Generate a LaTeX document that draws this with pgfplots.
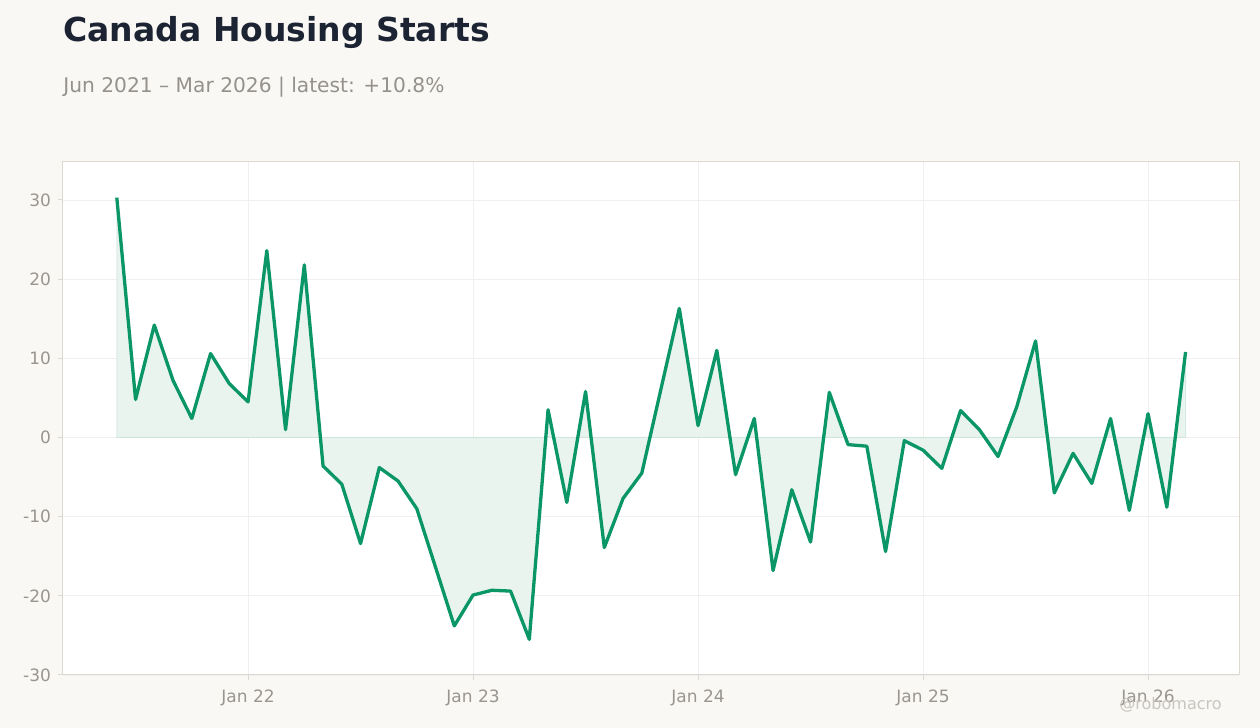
\documentclass[border=0pt]{standalone}
\usepackage{pgfplots}
\pgfplotsset{compat=1.18}
\usepackage{fontspec}
\setmainfont{DejaVu Sans}
\definecolor{bgc}{HTML}{F9F8F5}
\definecolor{linec}{HTML}{0A9667}
\definecolor{fillc}{HTML}{EAF4EF}
\definecolor{titlec}{HTML}{1C2333}
\definecolor{subc}{HTML}{95918C}
\definecolor{tickc}{HTML}{9A958F}
\definecolor{framec}{HTML}{DDD8D0}
\definecolor{gridc}{HTML}{F1F0EE}
\definecolor{wmc}{HTML}{C9C5C0}
\pgfplotstableread{
x y
-7 30.3
-6 4.8
-5 14.2
-4 7.2
-3 2.4
-2 10.6
-1 6.8
0 4.5
1 23.6
2 1.0
3 21.8
4 -3.6
5 -5.9
6 -13.4
7 -3.8
8 -5.5
9 -9.0
10 -16.4
11 -23.8
12 -19.9
13 -19.3
14 -19.4
15 -25.5
16 3.5
17 -8.2
18 5.8
19 -13.9
20 -7.7
21 -4.5
22 5.9
23 16.3
24 1.5
25 11.0
26 -4.7
27 2.4
28 -16.8
29 -6.6
30 -13.2
31 5.7
32 -0.9
33 -1.1
34 -14.4
35 -0.4
36 -1.6
37 -3.9
38 3.4
39 1.0
40 -2.4
41 3.9
42 12.2
43 -7.0
44 -2.0
45 -5.8
46 2.4
47 -9.2
48 3.0
49 -8.8
50 10.8
}\datatable
\begin{document}
\begin{tikzpicture}
\fill[bgc] (0,0) rectangle (630pt,364pt);
\path[use as bounding box] (0,0) rectangle (630pt,364pt);
\node[anchor=base west, inner sep=0pt, text=titlec, font=\fontsize{16.5}{20}\selectfont\bfseries] at (31.5pt,343.2pt) {Canada Housing Starts};
\node[anchor=base west, inner sep=0pt, text=subc, font=\fontsize{10.1}{12}\selectfont] at (31.5pt,317.7pt) {Jun 2021 – Mar 2026 | latest: +10.8\%};
\begin{axis}[
  at={(31.5pt,26.5pt)}, anchor=south west,
  scale only axis, width=588pt, height=256.5pt,
  xmin=-9.87, xmax=52.85, ymin=-30, ymax=34.8,
  axis background/.style={fill=white},
  axis line style={framec, line width=0.5pt},
  xtick={0,12,24,36,48},
  xticklabels={Jan 22,Jan 23,Jan 24,Jan 25,Jan 26},
  ytick={-30,-20,-10,0,10,20,30},
  tick style={framec, line width=0.5pt},
  tick align=outside, major tick length=2.5pt,
  xtick pos=bottom, ytick pos=left,
  grid=major, major grid style={gridc, line width=0.4pt},
  ticklabel style={font=\fontsize{8.5}{10}\selectfont, text=tickc},
  xticklabel style={yshift=-1.5pt},
  /pgf/number format/assume math mode=true,
  yticklabel style={/pgf/number format/.cd, fixed},
  yticklabel={\pgfmathprintnumber{\tick}},
  clip=false,
]
\addplot[draw=linec, draw opacity=0.12, line width=0.5pt, fill=fillc] table[x=x,y=y]{\datatable} \closedcycle;
\addplot[linec, line width=1.65pt, line join=round] table[x=x,y=y]{\datatable};
\end{axis}
\node[anchor=base east, inner sep=0pt, text=wmc, font=\fontsize{8}{10}\selectfont] at (611pt,9pt) {@robomacro};
\end{tikzpicture}
\end{document}
